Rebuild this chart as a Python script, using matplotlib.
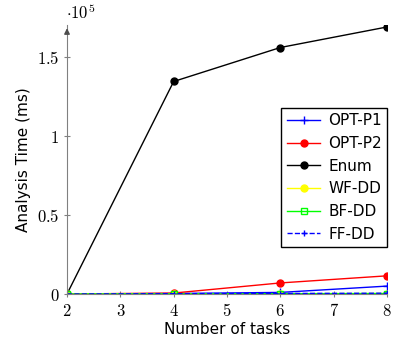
import matplotlib.pyplot as plt

plt.rcParams['mathtext.fontset'] = 'cm'
plt.rcParams['font.family'] = ['DejaVu Sans']

# Daten
tasks = [2, 4, 6, 8]
opt_p1 = [0, 300, 1000, 5000]
opt_p2 = [0, 600, 7000, 11500]
enum = [0, 134500, 156000, 169000]
wf_dd = [0, 100, 150, 250]
bf_dd = [0, 120, 200, 300]
ff_dd = [0, 200, 300, 500]

xticks = [2, 3, 4, 5, 6, 7, 8]
yticks = [0, 50000, 100000, 150000]
ytick_labels = ['$0$', '$0.5$', '$1$', '$1.5$']

fig = plt.figure(figsize=(3.93, 3.40), dpi=100)
ax = fig.add_axes([0.1705, 0.1353, 0.8142, 0.79])

ax.plot(tasks, opt_p1, color='blue', marker='+', ms=6, lw=1, label='OPT-P1')
ax.plot(tasks, opt_p2, color='red', marker='o', ms=5, lw=1, label='OPT-P2')
ax.plot(tasks, enum, color='black', marker='o', ms=5, lw=1, label='Enum')
ax.plot(tasks, wf_dd, color='yellow', marker='o', ms=5, lw=1, label='WF-DD')
ax.plot(tasks, bf_dd, color='#00ff00', marker='s', ms=5, mfc='none', mew=1, lw=1, label='BF-DD')
ax.plot(tasks, ff_dd, color='blue', marker='+', ms=5, lw=1, ls='--', label='FF-DD')

ax.set_xlim(2, 8)
ax.set_ylim(0, 170000)
ax.set_xticks(xticks)
ax.set_xticklabels(['$%d$' % t for t in xticks], fontsize=12)
ax.set_yticks(yticks)
ax.set_yticklabels(ytick_labels, fontsize=12)
ax.tick_params(direction='inout', length=5, color='0.5', pad=3)

ax.spines['top'].set_visible(False)
ax.spines['right'].set_visible(False)
ax.spines['left'].set_color('0.5')
ax.spines['bottom'].set_color('0.5')

# Pfeil auf der y-Achse
ax.annotate('', xy=(0, 1.0), xytext=(0, 0.96), xycoords='axes fraction',
            arrowprops=dict(arrowstyle='-|>', color='0.3', lw=1, mutation_scale=8))
ax.annotate(r'$\cdot 10^{5}$', xy=(0, 1), xycoords='axes fraction', xytext=(-1, 2),
            textcoords='offset points', fontsize=12, va='bottom', ha='left')

ax.set_xlabel('Number of tasks', fontsize=11, labelpad=2)
ax.set_ylabel('Analysis Time (ms)', fontsize=11, labelpad=4)

ax.legend(loc='center right', bbox_to_anchor=(1.0, 0.434), fontsize=11, frameon=True,
          fancybox=False, edgecolor='black', framealpha=1, handlelength=2.2,
          borderpad=0.35, labelspacing=0.5, handletextpad=0.5, borderaxespad=0)

plt.savefig('out.png', dpi=100)
